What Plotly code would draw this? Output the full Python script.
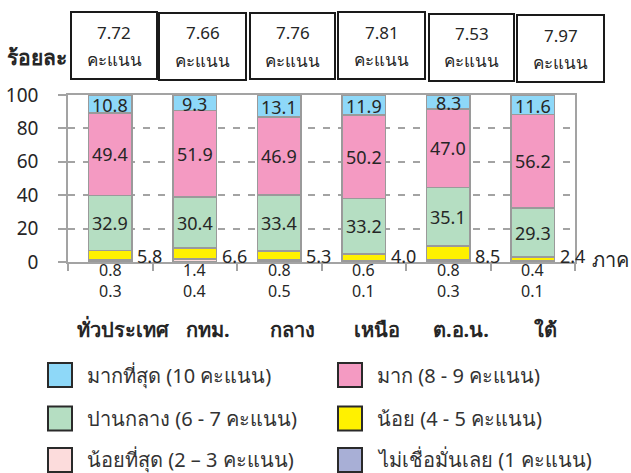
import plotly.graph_objects as go

# Regions and average confidence score per region
regions = ["ทั่วประเทศ", "กทม.", "กลาง", "เหนือ", "ต.อ.น.", "ใต้"]
scores = ["7.72", "7.66", "7.76", "7.81", "7.53", "7.97"]

# Percentage shares per confidence level (bottom to top of each stack)
none_at_all = [0.3, 0.4, 0.5, 0.1, 0.3, 0.1]      # 1 point
least = [0.8, 1.4, 0.8, 0.6, 0.8, 0.4]            # 2-3 points
low = [5.8, 6.6, 5.3, 4.0, 8.5, 2.4]              # 4-5 points
medium = [32.9, 30.4, 33.4, 33.2, 35.1, 29.3]     # 6-7 points
high = [49.4, 51.9, 46.9, 50.2, 47.0, 56.2]       # 8-9 points
highest = [10.8, 9.3, 13.1, 11.9, 8.3, 11.6]      # 10 points

series_names = [
    "ไม่เชื่อมั่นเลย (1 คะแนน)",
    "น้อยที่สุด (2 – 3 คะแนน)",
    "น้อย (4 - 5 คะแนน)",
    "ปานกลาง (6 - 7 คะแนน)",
    "มาก (8 - 9 คะแนน)",
    "มากที่สุด (10 คะแนน)",
]
series_values = [none_at_all, least, low, medium, high, highest]
series_colors = ["#A8AFD6", "#FCDCDC", "#FFF100", "#B5DEC2", "#F49AC2", "#8ED8F8"]

y_ticks = [0, 20, 40, 60, 80, 100]

FONT = "Tahoma, 'Noto Sans', 'DejaVu Sans', sans-serif"
TXT = "#262626"
GRID = "#A3A3A3"

W, H = 631, 473
ML, MR, MT, MB = 68, 56, 95, 211
PW, PH = W - ML - MR, H - MT - MB


def px_x(p):
    return (p - ML) / PW


def px_y(p):
    return (H - MB - p) / PH


def label(xv, yv, text, size, xref="paper", yref="paper", **kw):
    d = dict(x=xv, y=yv, xref=xref, yref=yref, text=text, showarrow=False,
             xanchor="center", yanchor="middle",
             font=dict(size=size, color=kw.pop("color", TXT), family=FONT))
    d.update(kw)
    return d


x = list(range(len(regions)))
fig = go.Figure()

for name, vals, col in zip(series_names, series_values, series_colors):
    fig.add_trace(go.Bar(
        x=x, y=vals, name=name, width=0.52,
        marker=dict(color=col, line=dict(color="#9A9A9A", width=1.5)),
        hoverinfo="y+name", showlegend=False,
    ))

annotations = []
shapes = []

# Value labels for the three large segments, centred in each segment
for i in x:
    base = none_at_all[i] + least[i] + low[i]
    for vals in (medium, high, highest):
        v = vals[i]
        annotations.append(label(i, base + v / 2, f"{v:.1f}", 18, "x", "y",
                                 yshift=-1 if vals is highest else 0))
        base += v
    # small shares written beside / below the stack
    annotations.append(label(i + 0.47, 0, f"{low[i]:.1f}", 18, "x", "y", yshift=6))
    annotations.append(label(i, 0, f"{least[i]:.1f}<br>{none_at_all[i]:.1f}", 16,
                             "x", "y", yshift=-18))
    # region names
    annotations.append(label(i, px_y(329), f"<b>{regions[i]}</b>", 20, "x", "paper",
                             xshift=13))

# Score boxes above the plot
box_x = [(71, 157), (159, 246), (250, 335), (338, 425), (429, 514), (517, 604)]
box_y = [(12, 79), (13, 80), (13, 79), (12, 79), (14, 81), (15, 82)]
for (x0, x1), (y0, y1), s in zip(box_x, box_y, scores):
    shapes.append(dict(
        type="rect", xref="paper", yref="paper",
        x0=px_x(x0), x1=px_x(x1), y0=px_y(y1), y1=px_y(y0),
        line=dict(color="#1A1A1A", width=2), fillcolor="white",
    ))
    cx = px_x((x0 + x1) / 2)
    annotations.append(label(cx, px_y(y0 + 20), s, 17))
    annotations.append(label(cx, px_y(y0 + 47), "คะแนน", 17))

annotations.append(label(px_x(37), px_y(57), "<b>ร้อยละ</b>", 21))
annotations.append(label(px_x(610), px_y(259), "ภาค", 20))

# Legend drawn as two columns of swatches
legend_order = [5, 4, 3, 2, 1, 0]
col_sq = [48, 338]
col_txt = [85, 375]
row_c = [375, 418.5, 460]
for k, si in enumerate(legend_order):
    r, c = divmod(k, 2)
    cy = row_c[r]
    shapes.append(dict(
        type="rect", xref="paper", yref="paper",
        x0=px_x(col_sq[c]), x1=px_x(col_sq[c] + 24),
        y0=px_y(cy + 12), y1=px_y(cy - 12),
        line=dict(color="#2A2A2A", width=2), fillcolor=series_colors[si],
    ))
    annotations.append(label(px_x(col_txt[c]), px_y(cy), series_names[si], 20,
                             xanchor="left", color="#333333"))

fig.update_layout(
    width=W, height=H,
    margin=dict(l=ML, r=MR, t=MT, b=MB, pad=0),
    barmode="stack",
    plot_bgcolor="white", paper_bgcolor="white",
    annotations=annotations, shapes=shapes,
    font=dict(family=FONT, color=TXT),
    xaxis=dict(
        range=[-0.5, len(regions) - 0.5],
        tickvals=[i - 0.5 for i in range(len(regions) + 1)],
        showticklabels=False, ticks="outside", ticklen=7, tickcolor=GRID,
        tickwidth=1.5, showgrid=False, showline=True, linecolor=GRID,
        linewidth=1.5, mirror=True, zeroline=False, fixedrange=True,
        automargin=False,
    ),
    yaxis=dict(
        range=[0, 100], tickvals=y_ticks, ticktext=[str(t) for t in y_ticks],
        ticks="outside", ticklen=8, tickcolor=GRID, tickwidth=1.5,
        ticklabelstandoff=16,
        tickfont=dict(size=19, color=TXT, family=FONT),
        showgrid=True, gridcolor=GRID, gridwidth=1.5, griddash="7px,8px",
        showline=True, linecolor=GRID, linewidth=1.5, mirror=True,
        zeroline=False, fixedrange=True, automargin=False,
    ),
)

fig.write_html("out.html")
